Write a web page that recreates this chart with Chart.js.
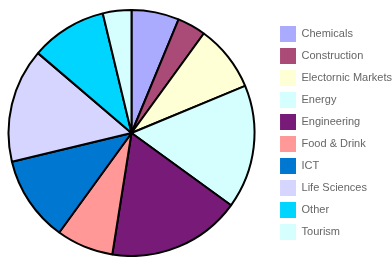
<!DOCTYPE html>
<html>
<head>
<meta charset="UTF-8">
<title>pie</title>
<script src="https://cdn.jsdelivr.net/npm/chart.js"></script>
<style>
  html, body { margin: 0; padding: 0; background: #fff; }
  #frame { width: 392px; height: 257px; overflow: hidden; position: relative; }
  #wrap { position: absolute; left: -11px; top: 0; width: 403px; height: 257px; }
</style>
</head>
<body>
<div id="frame"><div id="wrap"><canvas id="pieChart"></canvas></div></div>
<script>
    // セクター別の件数
    const sectors = [
        "Chemicals",
        "Construction",
        "Electornic Markets",
        "Energy",
        "Engineering",
        "Food & Drink",
        "ICT",
        "Life Sciences",
        "Other",
        "Tourism"
    ];
    const counts = [5, 3, 7, 13, 14, 6, 9, 12, 8, 3];
    const colors = [
        '#aaaaff', '#aa4a77', '#ffffd5', '#d5ffff', '#781a78',
        '#ff9896', '#0077d0', '#d5d5ff', '#00d5ff', '#d5ffff'
    ];

    const config = {
        type: 'pie',
        data: {
            labels: sectors,
            datasets: [{
                data: counts,
                backgroundColor: colors,
                borderColor: '#000',
                borderWidth: 2
            }]
        },
        options: {
            responsive: true,
            maintainAspectRatio: false,
            animation: false,
            layout: {
                padding: { top: 9, left: 0, right: -10, bottom: 0 }
            },
            plugins: {
                tooltip: { enabled: false },
                legend: {
                    position: 'right',
                    labels: {
                        boxWidth: 16,
                        boxHeight: 16,
                        padding: 6,
                        color: '#666',
                        font: { family: 'Liberation Sans, Arial, sans-serif', size: 11 },
                        generateLabels: function(chart) {
                            const items = Chart.overrides.pie.plugins.legend.labels.generateLabels(chart);
                            items.forEach(function(it) { it.lineWidth = 0; it.strokeStyle = 'rgba(0,0,0,0)'; });
                            return items;
                        }
                    }
                }
            }
        }
    };

    new Chart(document.getElementById('pieChart'), config);
</script>
</body>
</html>
